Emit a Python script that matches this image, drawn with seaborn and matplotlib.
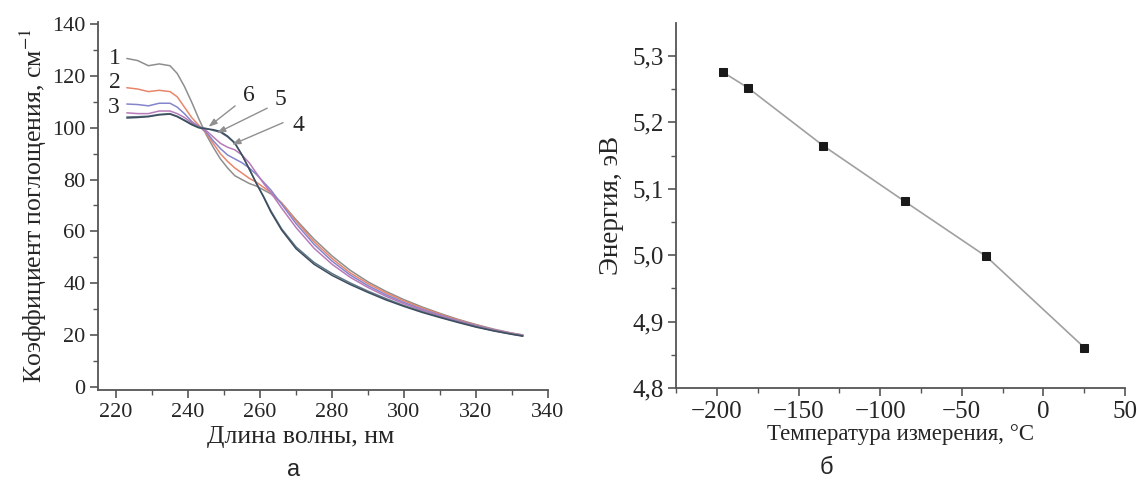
import numpy as np
import pandas as pd
import matplotlib
matplotlib.use("Agg")
import matplotlib.pyplot as plt
import seaborn as sns
from matplotlib.ticker import MultipleLocator, FuncFormatter

# ---------------- data ----------------
wavelength = [223, 226, 229, 232, 235, 237, 239, 241, 243, 245, 247, 249, 251, 253,
              255, 257, 259, 261, 263, 266, 270, 275, 280, 285, 290, 295, 300, 305,
              310, 315, 320, 325, 330, 333]

curve1 = [126.8, 126.0, 124.0, 124.7, 124.0, 121.0, 116.0, 110.0, 103.5, 97.5, 92.5, 88.0, 84.5, 81.5,
          80.0, 78.5, 77.5, 76.0, 74.5, 71.0, 64.5, 57.0, 50.5, 45.0, 40.5, 36.8, 33.6, 30.8,
          28.3, 26.0, 24.0, 22.2, 20.7, 20.0]
curve2 = [115.5, 115.0, 114.0, 114.5, 114.0, 112.0, 108.0, 104.0, 101.0, 98.0, 94.0, 90.0, 87.0, 84.5,
          82.5, 80.5, 79.0, 77.0, 75.0, 71.0, 64.0, 56.0, 49.5, 44.0, 39.8, 36.2, 33.1, 30.4,
          28.0, 25.8, 23.8, 22.0, 20.6, 19.9]
curve3 = [109.2, 109.0, 108.5, 109.5, 109.5, 108.0, 105.5, 102.5, 100.5, 98.5, 95.0, 92.0, 89.5, 88.0,
          86.5, 84.5, 82.0, 79.0, 76.0, 70.5, 63.0, 55.0, 48.5, 43.2, 39.0, 35.5, 32.5, 29.9,
          27.6, 25.5, 23.6, 21.9, 20.5, 19.8]
curve4 = [105.8, 105.5, 105.5, 106.5, 106.5, 105.5, 104.0, 102.0, 100.5, 99.0, 96.5, 94.0, 92.5, 91.5,
          89.5, 86.5, 82.5, 78.5, 75.0, 69.0, 61.5, 53.5, 47.3, 42.3, 38.3, 34.9, 32.0, 29.5,
          27.3, 25.3, 23.4, 21.8, 20.4, 19.7]
curve5 = [104.2, 104.3, 104.5, 105.2, 105.5, 104.5, 103.0, 101.5, 100.3, 99.8, 99.0, 98.3, 96.5, 94.0,
          89.5, 84.0, 78.5, 73.5, 68.0, 61.0, 54.0, 48.0, 43.7, 40.1, 36.9, 34.0, 31.3, 29.0,
          26.9, 25.0, 23.2, 21.6, 20.3, 19.6]
curve6 = [103.8, 104.0, 104.3, 105.0, 105.3, 104.3, 102.8, 101.2, 100.0, 99.6, 99.3, 98.6, 96.8, 94.2,
          89.5, 84.2, 78.5, 73.2, 67.5, 60.5, 53.3, 47.3, 43.0, 39.5, 36.4, 33.5, 31.0, 28.7,
          26.7, 24.8, 23.0, 21.5, 20.2, 19.5]

curve_names = ["1", "2", "3", "4", "5", "6"]
curve_colors = ["#8e8e8e", "#e8866a", "#8585cc", "#b87ab8", "#5d7585", "#3e4e5e"]

temperature = [-196, -181, -135, -85, -35, 25]
energy = [5.275, 5.252, 5.165, 5.081, 4.998, 4.861]

x_ticks_a = [220, 240, 260, 280, 300, 320, 340]
y_ticks_a = [0, 20, 40, 60, 80, 100, 120, 140]
x_ticks_b = [-200, -150, -100, -50, 0, 50]
y_ticks_b = [4.8, 4.9, 5.0, 5.1, 5.2, 5.3]

# ---------------- style ----------------
sns.set_style("ticks")
plt.rcParams["font.family"] = ["Liberation Serif", "DejaVu Serif"]
plt.rcParams["mathtext.fontset"] = "stix"
plt.rcParams["axes.unicode_minus"] = True

spine_col = "#555555"

fig = plt.figure(figsize=(11.37, 4.86), dpi=100)
ax1 = fig.add_axes([0.0862, 0.1975, 0.3958, 0.7578])
ax2 = fig.add_axes([0.5946, 0.2016, 0.3949, 0.7504])

# ---------------- panel a ----------------
rows = []
for name, vals in zip(curve_names, [curve1, curve2, curve3, curve4, curve5, curve6]):
    for w, v in zip(wavelength, vals):
        rows.append({"wl": w, "k": v, "curve": name})
df_a = pd.DataFrame(rows)

sns.lineplot(data=df_a, x="wl", y="k", hue="curve", palette=dict(zip(curve_names, curve_colors)),
             estimator=None, sort=False, linewidth=1.1, legend=False, ax=ax1)

ax1.set_xlim(215, 340)
ax1.set_ylim(-1.3, 141)
ax1.set_xticks(x_ticks_a)
ax1.set_yticks(y_ticks_a)
ax1.xaxis.set_minor_locator(MultipleLocator(10))
ax1.yaxis.set_minor_locator(MultipleLocator(10))
ax1.set_xlabel("Длина волны, нм", fontsize=18.5, labelpad=1)
ax1.xaxis.set_label_coords(0.451, -0.098)
ax1.set_ylabel(r"Коэффициент поглощения, см$^{-1}$", fontsize=18.5, labelpad=2)

for lab, (tx, ty) in zip(["1", "2", "3"], [(219.8, 126.9), (219.8, 117.4), (219.3, 108.0)]):
    ax1.text(tx, ty, lab, fontsize=17, ha="center", va="center")

arrows = [("6", (256.8, 112.6), (253.1, 108.5), (245.7, 100.4)),
          ("5", (265.6, 110.8), (262.0, 107.6), (248.0, 98.0)),
          ("4", (270.7, 101.0), (266.4, 102.0), (252.2, 93.5))]
for lab, tpos, start, end in arrows:
    ax1.text(tpos[0], tpos[1], lab, fontsize=17, ha="center", va="center")
    ax1.annotate("", xy=end, xytext=start,
                 arrowprops=dict(arrowstyle="-|>,head_length=0.5,head_width=0.18",
                                 color="#909090", lw=1.0, shrinkA=0, shrinkB=0))

# ---------------- panel b ----------------
df_b = pd.DataFrame({"T": temperature, "E": energy})
sns.lineplot(data=df_b, x="T", y="E", color="#a0a0a0", linewidth=1.2, ax=ax2,
             marker="s", markersize=6, markerfacecolor="#1a1a1a", markeredgecolor="#1a1a1a")

ax2.set_xlim(-225, 50)
ax2.set_ylim(4.8, 5.349)
ax2.set_xticks(x_ticks_b)
ax2.set_yticks(y_ticks_b)
ax2.xaxis.set_minor_locator(MultipleLocator(25))
ax2.yaxis.set_minor_locator(MultipleLocator(0.05))
ax2.yaxis.set_major_formatter(FuncFormatter(lambda v, p: f"{v:.1f}".replace(".", ",")))
ax2.xaxis.set_major_formatter(FuncFormatter(lambda v, p: f"{int(round(v))}".replace("-", "\u2212")))
ax2.set_xlabel("Температура измерения, °C", fontsize=16.5, labelpad=1)
ax2.set_ylabel("Энергия, эВ", fontsize=19.5, labelpad=6)

for ax, fs in ((ax1, 16), (ax2, 18)):
    sns.despine(ax=ax)
    for s in ("left", "bottom"):
        ax.spines[s].set_color(spine_col)
        ax.spines[s].set_linewidth(1.3)
    ax.tick_params(axis="both", which="major", direction="out", length=6, width=1.2,
                   color=spine_col, labelsize=fs, pad=3)
    ax.tick_params(axis="both", which="minor", direction="out", length=3.5, width=1.0,
                   color=spine_col)

fig.text(0.258, 1 - 470 / 486, "а", fontsize=17, family=["Liberation Sans", "DejaVu Sans"],
         ha="center", va="center")
fig.text(0.727, 1 - 468 / 486, "б", fontsize=17, family=["Liberation Sans", "DejaVu Sans"],
         ha="center", va="center")

fig.savefig("out.png", dpi=100, facecolor="white")
